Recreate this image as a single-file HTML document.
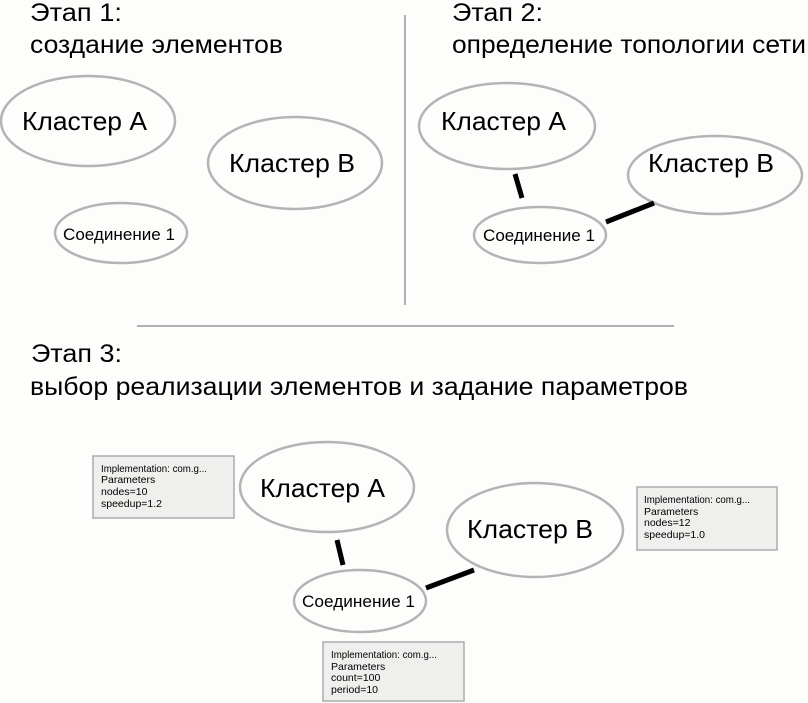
<!DOCTYPE html>
<html><head><meta charset="utf-8"><style>
html,body{margin:0;padding:0;background:#fdfdfb;}
svg{display:block;}
text{font-family:"Liberation Sans","DejaVu Sans",sans-serif;fill:#000;}
</style></head><body>
<svg width="808" height="703" viewBox="0 0 808 703" xmlns="http://www.w3.org/2000/svg">
<rect width="808" height="703" fill="#fdfdfb"/>
<line x1="405" y1="15" x2="405" y2="305" stroke="#b0b0b0" stroke-width="2"/>
<line x1="137" y1="326" x2="674" y2="326" stroke="#b0b0b0" stroke-width="2"/>
<g font-size="25">
<text x="30" y="21" textLength="92" lengthAdjust="spacingAndGlyphs">Этап 1:</text>
<text x="30" y="53" textLength="253" lengthAdjust="spacingAndGlyphs">создание элементов</text>
<text x="452" y="21" textLength="91" lengthAdjust="spacingAndGlyphs">Этап 2:</text>
<text x="452" y="53" textLength="354" lengthAdjust="spacingAndGlyphs">определение топологии сети</text>
<text x="31" y="362" textLength="91" lengthAdjust="spacingAndGlyphs">Этап 3:</text>
<text x="30" y="395" textLength="658" lengthAdjust="spacingAndGlyphs">выбор реализации элементов и задание параметров</text>
</g>
<g fill="#fdfdfb" stroke="#b4b4b4" stroke-width="2.5">
<ellipse cx="88" cy="121" rx="87" ry="45"/>
<ellipse cx="295" cy="163" rx="87" ry="46"/>
<ellipse cx="121" cy="233" rx="66" ry="30"/>
<ellipse cx="507" cy="126" rx="88" ry="43"/>
<ellipse cx="715" cy="175" rx="87" ry="39"/>
<ellipse cx="540" cy="235" rx="66" ry="28"/>
<ellipse cx="327" cy="487" rx="87" ry="45"/>
<ellipse cx="535" cy="530" rx="88" ry="47"/>
<ellipse cx="360" cy="601" rx="66" ry="31"/>
</g>
<g stroke="#000" stroke-width="5">
<line x1="515" y1="174" x2="522" y2="198"/>
<line x1="606" y1="222" x2="654" y2="203"/>
<line x1="337" y1="540" x2="343" y2="565"/>
<line x1="426" y1="588" x2="474" y2="570"/>
</g>
<g font-size="26">
<text x="22" y="130" textLength="125" lengthAdjust="spacingAndGlyphs">Кластер А</text>
<text x="229" y="172" textLength="126" lengthAdjust="spacingAndGlyphs">Кластер В</text>
<text x="441" y="130" textLength="125" lengthAdjust="spacingAndGlyphs">Кластер А</text>
<text x="648" y="172" textLength="126" lengthAdjust="spacingAndGlyphs">Кластер В</text>
<text x="260" y="497" textLength="125" lengthAdjust="spacingAndGlyphs">Кластер А</text>
<text x="467" y="538" textLength="126" lengthAdjust="spacingAndGlyphs">Кластер В</text>
</g>
<g font-size="17">
<text x="63" y="240" textLength="112" lengthAdjust="spacingAndGlyphs">Соединение 1</text>
<text x="483" y="241" textLength="112" lengthAdjust="spacingAndGlyphs">Соединение 1</text>
<text x="302" y="607" textLength="113" lengthAdjust="spacingAndGlyphs">Соединение 1</text>
</g>
<g fill="#efefed" stroke="#acacac" stroke-width="1.5">
<rect x="93" y="456" width="141" height="62"/>
<rect x="637" y="487" width="140" height="63"/>
<rect x="323" y="642" width="141" height="59"/>
</g>
<g font-size="10.5" fill="#222">
<text x="101" y="472" textLength="106" lengthAdjust="spacingAndGlyphs">Implementation: com.g...</text>
<text x="101" y="483">Parameters</text>
<text x="101" y="495">nodes=10</text>
<text x="101" y="507">speedup=1.2</text>
<text x="644" y="503" textLength="106" lengthAdjust="spacingAndGlyphs">Implementation: com.g...</text>
<text x="644" y="515">Parameters</text>
<text x="644" y="526">nodes=12</text>
<text x="644" y="538">speedup=1.0</text>
<text x="331" y="658" textLength="106" lengthAdjust="spacingAndGlyphs">Implementation: com.g...</text>
<text x="331" y="670">Parameters</text>
<text x="331" y="681">count=100</text>
<text x="331" y="693">period=10</text>
</g>
</svg>
</body></html>
